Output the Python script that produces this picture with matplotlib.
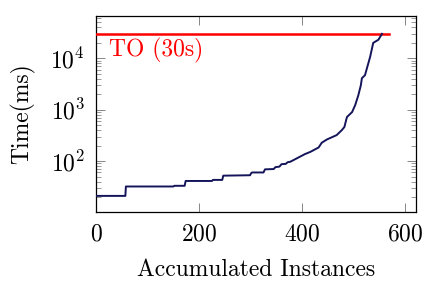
import matplotlib
matplotlib.use("Agg")
import matplotlib.pyplot as plt
from matplotlib.ticker import LogLocator, FixedLocator, NullFormatter

plt.rcParams['font.family'] = ['cmr10', 'DejaVu Serif']
plt.rcParams['mathtext.fontset'] = 'cm'
plt.rcParams['axes.formatter.use_mathtext'] = True

# Accumulated instances vs. time (ms)
instances = [0, 57, 58, 150, 152, 172, 174, 225, 227, 245, 247, 299, 301, 303,
             325, 328, 345, 348, 356, 360, 368, 372, 377, 386, 396, 405, 416,
             432, 438, 448, 467, 477, 482, 487, 497, 503, 509, 514, 516, 522,
             532, 538, 548, 555]
times_ms = [21, 21, 32, 32, 33, 33, 41, 41, 43, 43, 52, 53, 58, 60,
            60, 69, 70, 76, 78, 87, 88, 95, 97, 108, 122, 136, 151,
            184, 227, 263, 320, 400, 460, 720, 900, 1230, 1900, 3000, 4100, 4700,
            10700, 20000, 23000, 30000]

timeout_ms = 30000
timeout_x = [0, 569]
timeout_label = "TO (30s)"

fig = plt.figure(figsize=(4.25, 2.82), dpi=100)
ax = fig.add_axes([96/425, 1-212/282, 320/425, 196/282])

ax.plot(timeout_x, [timeout_ms, timeout_ms], color='red', lw=1.8, zorder=3)
ax.plot(instances, times_ms, color='#14145a', lw=1.4, zorder=4)

ax.text(25, 14000, timeout_label, color='red', fontsize=17, va='center', ha='left')

ax.set_yscale('log')
ax.set_xlim(0, 621)
ax.set_ylim(10.2, 66700)
ax.xaxis.set_major_locator(FixedLocator([0, 200, 400, 600]))
ax.yaxis.set_major_locator(LogLocator(base=10, numticks=10))
ax.yaxis.set_minor_locator(LogLocator(base=10, subs=range(2, 10), numticks=20))
ax.yaxis.set_minor_formatter(NullFormatter())

ax.tick_params(which='both', direction='in', top=True, right=True, color='0.45',
               labelsize=17)
ax.tick_params(which='major', length=6.5, width=0.6, pad=8)
ax.tick_params(which='minor', length=3.5, width=0.5)
ax.tick_params(axis='x', which='minor', bottom=False, top=False)

for s in ax.spines.values():
    s.set_linewidth(0.9)

ax.set_xlabel('Accumulated Instances', fontsize=17, labelpad=10)
ax.set_ylabel('Time(ms)', fontsize=17, labelpad=11)

fig.savefig('out.png', dpi=100)
